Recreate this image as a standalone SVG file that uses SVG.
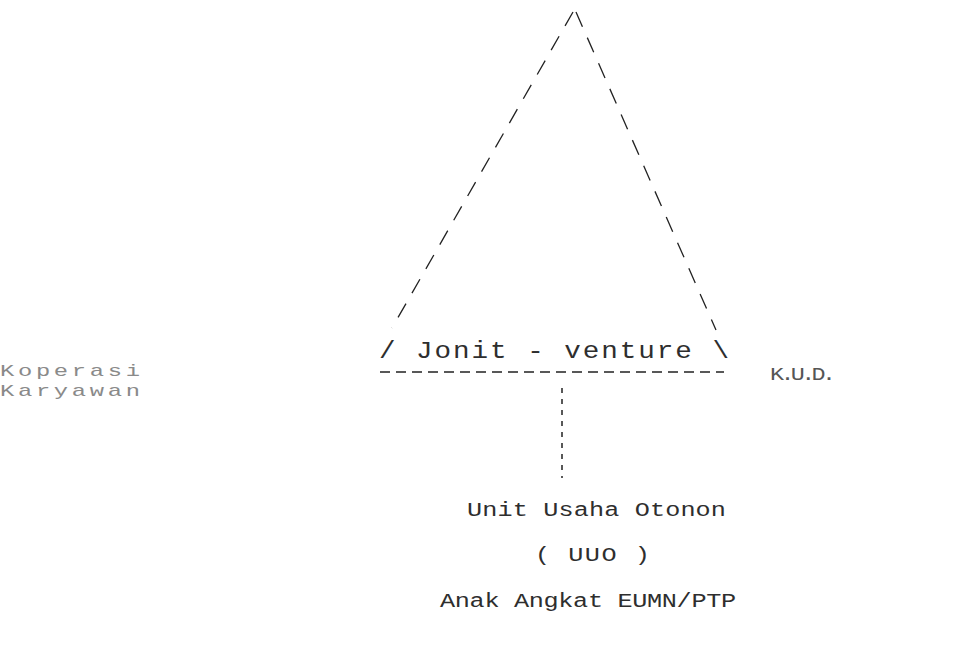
<svg xmlns="http://www.w3.org/2000/svg" width="970" height="669" viewBox="0 0 970 669">
<style>
.t{font-family:"Liberation Mono","DejaVu Sans Mono",monospace;fill:#2e2e2e;}
.side{fill:none;stroke:#222;stroke-width:1.3;stroke-dasharray:16 12;}
.base{fill:none;stroke:#222;stroke-width:1.6;stroke-dasharray:10 6;}
.link{fill:none;stroke:#222;stroke-width:1.5;stroke-dasharray:5 6;}
</style>
<rect width="970" height="669" fill="#ffffff"/>
<g id="joint-venture">
<line class="side" x1="573" y1="12" x2="392" y2="328"/>
<line class="side" x1="576" y1="12" x2="716" y2="330"/>
<text class="t" transform="scale(1.2 1)" x="315.8" y="358" font-size="23" textLength="291.7" lengthAdjust="spacing">/ Jonit - venture \</text>
<line class="base" x1="380" y1="372" x2="724" y2="372"/>
</g>
<g id="koperasi-karyawan">
<text class="t" transform="scale(1.4 1)" x="0" y="376" font-size="17" textLength="100" lengthAdjust="spacing" style="fill:#8a8a8a">Koperasi</text>
<text class="t" transform="scale(1.4 1)" x="0" y="396" font-size="17" textLength="100" lengthAdjust="spacing" style="fill:#8a8a8a">Karyawan</text>
</g>
<g id="kud">
<text class="t" transform="scale(1.3 1)" x="592.3" y="380" font-size="18" textLength="50.8" lengthAdjust="spacing" style="fill:#555">K.U.D.</text>
</g>
<g id="uuo">
<text class="t" transform="scale(1.2 1)" x="389.2" y="516" font-size="21" textLength="215.8" lengthAdjust="spacing">Unit Usaha Otonon</text>
<text class="t" transform="scale(1.2 1)" x="445.8" y="561" font-size="21" textLength="95.8" lengthAdjust="spacing">( UUO )</text>
<text class="t" transform="scale(1.2 1)" x="366.7" y="607" font-size="21" textLength="246.7" lengthAdjust="spacing">Anak Angkat EUMN/PTP</text>
</g>
<g id="connectors">
<line class="link" x1="562" y1="388" x2="562" y2="478"/>
</g>
</svg>
